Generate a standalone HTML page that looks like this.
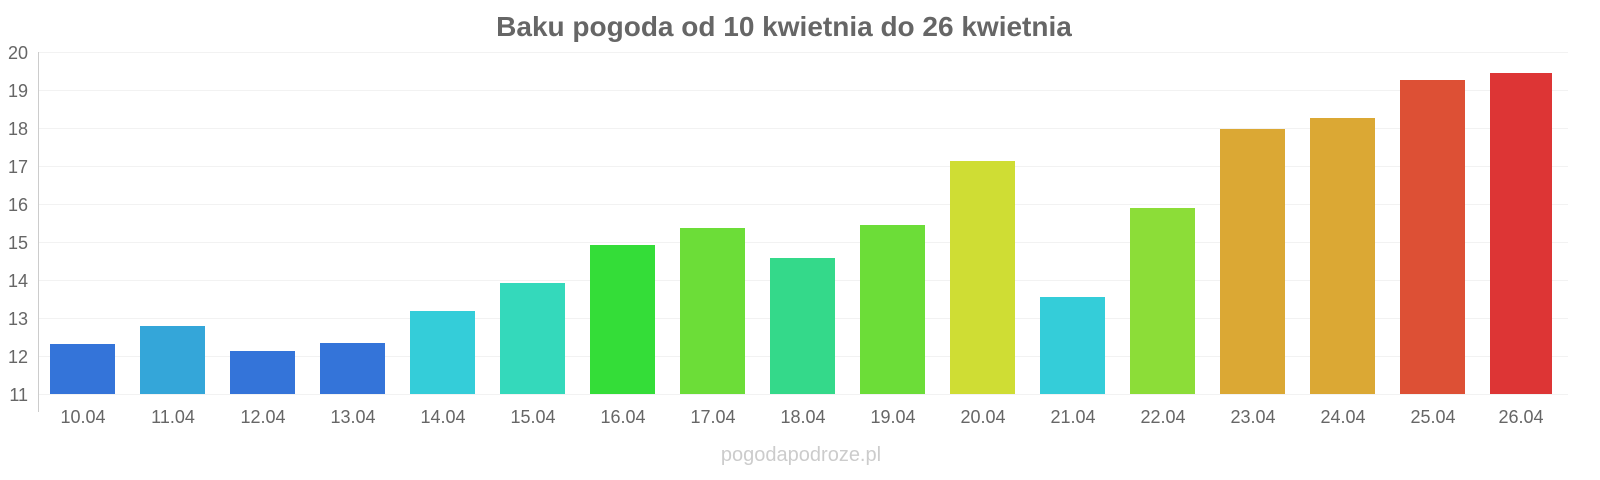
<!DOCTYPE html>
<html><head><meta charset="utf-8"><style>
body{margin:0;background:#fff;}
svg{display:block;font-family:"Liberation Sans",sans-serif;}
</style></head><body>
<svg width="1600" height="480" xmlns="http://www.w3.org/2000/svg">
<text x="784" y="36" text-anchor="middle" font-size="28" font-weight="bold" fill="#666">Baku pogoda od 10 kwietnia do 26 kwietnia</text>
<g stroke="#f2f2f2" stroke-width="1">
<line x1="38" x2="1568" y1="52.5" y2="52.5"/><line x1="38" x2="1568" y1="90.5" y2="90.5"/><line x1="38" x2="1568" y1="128.5" y2="128.5"/><line x1="38" x2="1568" y1="166.5" y2="166.5"/><line x1="38" x2="1568" y1="204.5" y2="204.5"/><line x1="38" x2="1568" y1="242.5" y2="242.5"/><line x1="38" x2="1568" y1="280.5" y2="280.5"/><line x1="38" x2="1568" y1="318.5" y2="318.5"/><line x1="38" x2="1568" y1="356.5" y2="356.5"/><line x1="38" x2="1568" y1="394.5" y2="394.5"/>
</g>
<line x1="38.5" x2="38.5" y1="52" y2="412" stroke="#ccc"/>
<g font-size="18" fill="#666" text-anchor="end">
<text x="28" y="59">20</text><text x="28" y="97">19</text><text x="28" y="135">18</text><text x="28" y="173">17</text><text x="28" y="211">16</text><text x="28" y="249">15</text><text x="28" y="287">14</text><text x="28" y="325">13</text><text x="28" y="363">12</text><text x="28" y="401">11</text>
</g>
<g>
<rect x="50" y="344" width="65" height="50" fill="#3474d9"/>
<rect x="140" y="326" width="65" height="68" fill="#34a6d9"/>
<rect x="230" y="351" width="65" height="43" fill="#3474d9"/>
<rect x="320" y="343" width="65" height="51" fill="#3474d9"/>
<rect x="410" y="311" width="65" height="83" fill="#34cdd9"/>
<rect x="500" y="283" width="65" height="111" fill="#34d9bb"/>
<rect x="590" y="245" width="65" height="149" fill="#34dd38"/>
<rect x="680" y="228" width="65" height="166" fill="#6cdd38"/>
<rect x="770" y="258" width="65" height="136" fill="#34d98a"/>
<rect x="860" y="225" width="65" height="169" fill="#6cdd38"/>
<rect x="950" y="161" width="65" height="233" fill="#cfdd34"/>
<rect x="1040" y="297" width="65" height="97" fill="#34cdd9"/>
<rect x="1130" y="208" width="65" height="186" fill="#8cdd38"/>
<rect x="1220" y="129" width="65" height="265" fill="#dba834"/>
<rect x="1310" y="118" width="65" height="276" fill="#dba834"/>
<rect x="1400" y="80" width="65" height="314" fill="#dd5035"/>
<rect x="1490" y="73" width="62" height="321" fill="#dd3535"/>
</g>
<g font-size="18" fill="#666" text-anchor="middle">
<text x="83" y="423">10.04</text><text x="173" y="423">11.04</text><text x="263" y="423">12.04</text><text x="353" y="423">13.04</text><text x="443" y="423">14.04</text><text x="533" y="423">15.04</text><text x="623" y="423">16.04</text><text x="713" y="423">17.04</text><text x="803" y="423">18.04</text><text x="893" y="423">19.04</text><text x="983" y="423">20.04</text><text x="1073" y="423">21.04</text><text x="1163" y="423">22.04</text><text x="1253" y="423">23.04</text><text x="1343" y="423">24.04</text><text x="1433" y="423">25.04</text><text x="1521" y="423">26.04</text>
</g>
<text x="801" y="461" text-anchor="middle" font-size="20" fill="#ccc">pogodapodroze.pl</text>
</svg>
</body></html>
